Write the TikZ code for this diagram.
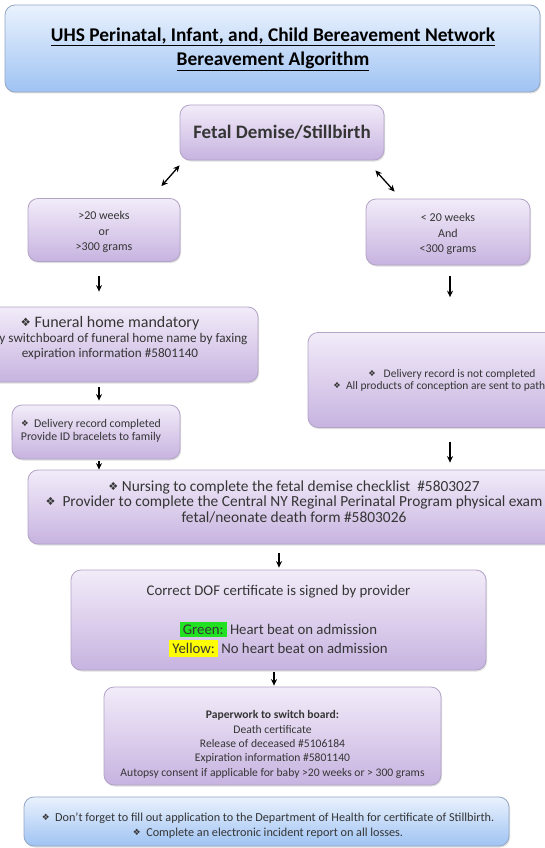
\documentclass[tikz,border=0pt]{standalone}
\usepackage{fontspec}
\usepackage{graphicx}
\setmainfont{Carlito}
\newfontfamily\symf{DejaVu Sans}
\usetikzlibrary{shadows,arrows.meta}
\definecolor{ptop}{HTML}{F2ECF9}
\definecolor{pbot}{HTML}{C7B3E0}
\definecolor{pline}{HTML}{B3A3C6}
\definecolor{btop}{HTML}{EAF2FD}
\definecolor{bbot}{HTML}{9FC3F3}
\definecolor{bline}{HTML}{93A7C4}
\definecolor{txtc}{HTML}{353535}
\definecolor{hlgreen}{HTML}{22E022}
\definecolor{hlyellow}{HTML}{FFFF00}
\newcommand{\bul}{\raisebox{0.05em}{\scalebox{0.72}{\symf ❖}}}
\newcommand{\fs}[2]{\fontsize{#1}{#2}\selectfont}
\tikzset{
 box/.style={draw, line width=0.8pt, rounded corners=10pt, drop shadow={opacity=0.25, shadow xshift=1pt, shadow yshift=-1.5pt}},
 pbox/.style={box, draw=pline, top color=ptop, bottom color=pbot},
 bbox/.style={box, draw=bline, top color=btop, bottom color=bbot},
 txt/.style={align=center, text=txtc, inner sep=0pt},
 arr/.style={-{Stealth[length=6.5pt,width=6pt]}, line width=1.3pt, black},
 darr/.style={{Stealth[length=6.5pt,width=6pt]}-{Stealth[length=6.5pt,width=6pt]}, line width=1.3pt, black},
}
\begin{document}
\begin{tikzpicture}[x=1pt,y=-1pt]
\useasboundingbox (0,0) rectangle (545,848);
\clip (0,0) rectangle (545,848);
\fill[white] (0,0) rectangle (545,848);
% boxes
\node[bbox, minimum width=535pt, minimum height=87pt] (title) at (272.5,48.5) {};
\node[txt, text=black, font=\bfseries\fs{19.4}{24}] (titleT) at (273,49) {\underline{UHS Perinatal, Infant, and, Child Bereavement Network}\\\underline{Bereavement Algorithm}};
\node[pbox, minimum width=204pt, minimum height=55pt, font=\bfseries\fs{19}{20}, text=txtc] (fetal) at (282,132.5) {Fetal Demise/Stillbirth};
\node[pbox, minimum width=152pt, minimum height=63pt] (lc) at (104,230) {};
\node[txt, font=\fs{12}{15.5}] (lcT) at (104,232) {>20 weeks\\or\\>300 grams};
\node[pbox, minimum width=164pt, minimum height=66pt] (rc) at (448,232) {};
\node[txt, font=\fs{12}{15.5}] (rcT) at (448,234) {< 20 weeks\\And\\<300 grams};
\node[pbox, minimum width=296pt, minimum height=75pt] (fun) at (110,344.5) {};
\node[txt, font=\fs{13.2}{15}] (funT) at (110,338) {{\fs{16}{15}\bul\ Funeral home mandatory}\\Notify switchboard of funeral home name by faxing\\expiration information \#5801140};
\node[pbox, minimum width=168pt, minimum height=54pt] (dc) at (96,432) {};
\node[txt, font=\fs{11.8}{13.5}] (dcT) at (91,431) {\bul\ \ Delivery record completed\\Provide ID bracelets to family};
\node[pbox, minimum width=288pt, minimum height=95pt] (nc) at (452,380) {};
\node[txt, font=\fs{11.5}{12}] (ncT) at (452,380.5) {\bul\ \ \ Delivery record is not completed\\\bul\ \ All products of conception are sent to pathology};
\node[pbox, minimum width=534pt, minimum height=74pt] (nurs) at (295,507) {};
\node[txt, font=\fs{15.4}{15.5}] (nursT) at (294,501.5) {\bul\ Nursing to complete the fetal demise checklist \ \#5803027\\\bul\ \ Provider to complete the Central NY Reginal Perinatal Program physical exam\\fetal/neonate death form \#5803026};
\node[pbox, minimum width=415pt, minimum height=100pt] (dof) at (278.5,620) {};
\node[txt, font=\fs{14.8}{19.4}] (dofT) at (278.5,621) {\setlength\fboxsep{0.6pt}Correct DOF certificate is signed by provider\\[19.4pt]\colorbox{hlgreen}{Green:} Heart beat on admission\\\colorbox{hlyellow}{Yellow:} No heart beat on admission};
\node[pbox, minimum width=337pt, minimum height=98pt] (pap) at (272.5,736) {};
\node[txt, font=\fs{11.6}{14.3}] (papT) at (272.5,744.5) {\textbf{Paperwork to switch board:}\\Death certificate\\Release of deceased \#5106184\\Expiration information \#5801140\\Autopsy consent if applicable for baby >20 weeks or > 300 grams};
\node[bbox, minimum width=485pt, minimum height=49pt] (bot) at (266.5,821.5) {};
\node[txt, font=\fs{12.2}{15}] (botT) at (268,825.5) {\bul\ \ Don't forget to fill out application to the Department of Health for certificate of Stillbirth.\\\bul\ \ Complete an electronic incident report on all losses.};
% connectors
\coordinate (ax) at (99,0);
\coordinate (bx) at (450,0);
\coordinate (cx) at (279,0);
\coordinate (dx) at (274,0);
\draw[darr] ([shift={(0,5)}]fetal.south west) -- ([shift={(-19,-12)}]lc.north east);
\draw[darr] ([shift={(-9,10)}]fetal.south east) -- ([shift={(29,-7)}]rc.north west);
\draw[arr, shorten <=14pt, shorten >=15pt] (lc.south -| ax) -- (fun.north -| ax);
\draw[arr, shorten <=11pt, shorten >=35pt] (rc.south -| bx) -- (nc.north -| bx);
\draw[arr, shorten <=5pt, shorten >=4pt] (fun.south -| ax) -- (dc.north -| ax);
\draw[arr, shorten <=2pt, shorten >=0pt] (dc.south -| ax) -- (nurs.north -| ax);
\draw[arr, shorten <=14pt, shorten >=7pt] (nc.south -| bx) -- (nurs.north -| bx);
\draw[arr, shorten <=9pt, shorten >=2pt] (nurs.south -| cx) -- (dof.north -| cx);
\draw[arr, shorten <=2pt, shorten >=1pt] (dof.south -| dx) -- (pap.north -| dx);
\end{tikzpicture}
\end{document}
